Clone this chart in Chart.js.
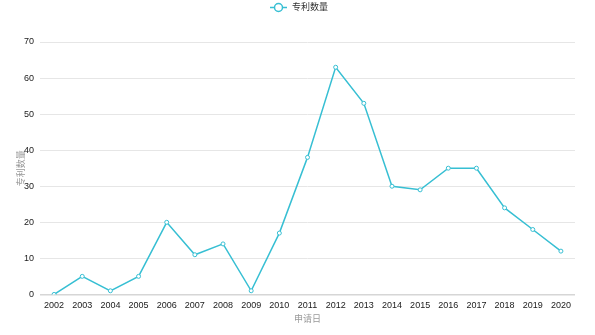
<!DOCTYPE html>
<html><head><meta charset="utf-8">
<script src="https://cdn.jsdelivr.net/npm/chart.js@4"></script>
<style>html,body{margin:0;padding:0;background:#fff}#wrap{width:595px;height:335px}</style>
</head><body><div id="wrap"><canvas id="c"></canvas></div>
<script>
const years = ["2002","2003","2004","2005","2006","2007","2008","2009","2010","2011","2012","2013","2014","2015","2016","2017","2018","2019","2020"];
const patentCounts = [0,5,1,5,20,11,14,1,17,38,63,53,30,29,35,35,24,18,12];
const seriesName = "专利数量";
const xTitle = "申请日";
const yTitle = "专利数量";
const yMax = 70, yStep = 10;

const FONT = '"Liberation Sans", "Noto Sans CJK SC", sans-serif';
const LINE = '#37bfd3';

const legendPlugin = {
  id: 'customLegend',
  afterDraw(chart) {
    const ctx = chart.ctx;
    ctx.save();
    ctx.font = '9px ' + FONT;
    const iconW = 17, gap = 5;
    const x0 = 270;
    const y = 7.5;
    ctx.strokeStyle = LINE; ctx.lineWidth = 1.5;
    ctx.beginPath(); ctx.moveTo(x0, y); ctx.lineTo(x0 + iconW, y); ctx.stroke();
    ctx.beginPath(); ctx.arc(x0 + iconW / 2, y, 4, 0, Math.PI * 2);
    ctx.fillStyle = '#fff'; ctx.fill(); ctx.stroke();
    ctx.fillStyle = '#333'; ctx.textBaseline = 'middle';
    ctx.fillText(seriesName, x0 + iconW + gap, y + 0.5);
    ctx.restore();
  }
};

new Chart(document.getElementById('c'), {
  type: 'line',
  data: {
    labels: years,
    datasets: [{
      label: seriesName,
      data: patentCounts,
      borderColor: LINE,
      borderWidth: 1.5,
      backgroundColor: '#fff',
      pointBackgroundColor: '#fff',
      pointBorderColor: LINE,
      pointBorderWidth: 1,
      pointRadius: 2,
      tension: 0,
      fill: false
    }]
  },
  options: {
    responsive: true,
    maintainAspectRatio: false,
    animation: false,
    layout: { padding: { top: 42, right: 20, bottom: 10, left: 16 } },
    plugins: { legend: { display: false }, tooltip: { enabled: false } },
    scales: {
      x: {
        offset: true,
        grid: { display: false, drawTicks: false },
        border: { display: false },
        ticks: { color: '#1a1a1a', font: { family: FONT, size: 9 }, padding: 6, maxRotation: 0, autoSkip: false },
        title: { display: true, text: xTitle, color: '#999', font: { family: FONT, size: 9 }, padding: { top: 4, bottom: 0 } },
        afterFit(s) { s.height -= 7; }
      },
      y: {
        min: 0, max: yMax,
        grid: {
          drawTicks: false,
          color: (c) => c.tick && c.tick.value === 0 ? '#d6d6d6' : '#e6e6e6',
          lineWidth: (c) => c.tick && c.tick.value === 0 ? 1.5 : 1
        },
        border: { display: false },
        ticks: { stepSize: yStep, color: '#1a1a1a', font: { family: FONT, size: 9 }, padding: 6 },
        title: { display: true, text: yTitle, color: '#999', font: { family: FONT, size: 9 }, padding: 0 },
        afterFit(s) { s.width = 24; }
      }
    }
  },
  plugins: [legendPlugin]
});
</script></body></html>
